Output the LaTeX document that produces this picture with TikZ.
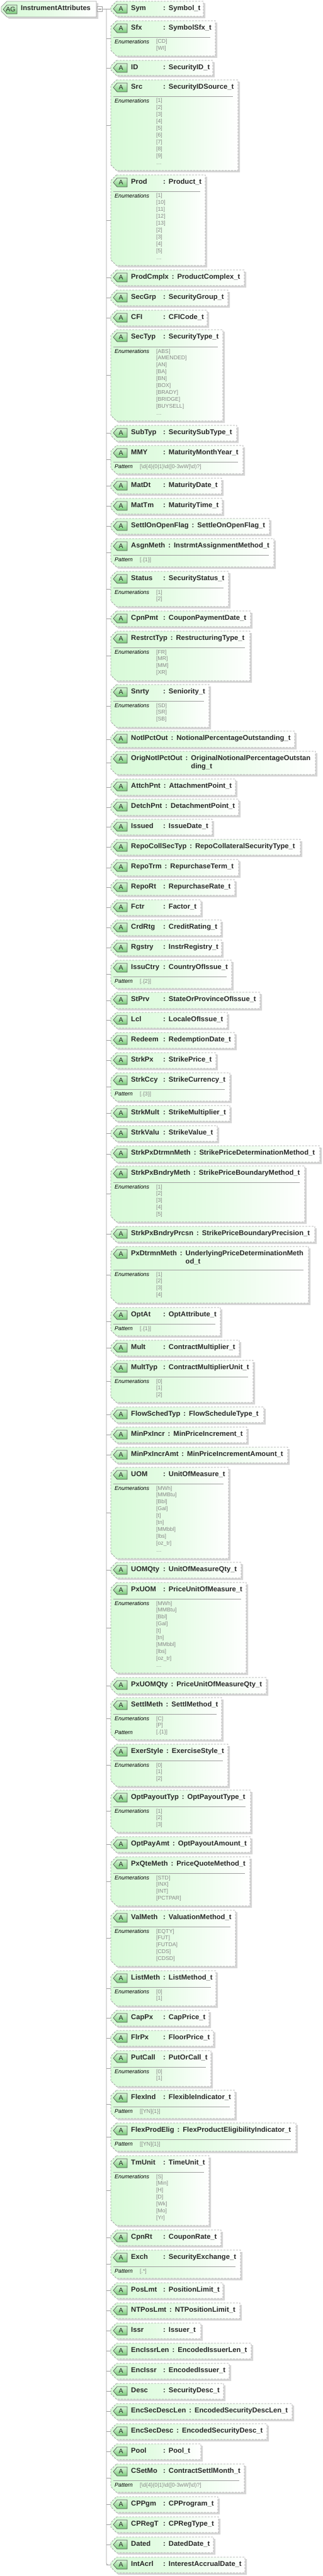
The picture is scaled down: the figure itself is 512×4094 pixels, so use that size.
\documentclass[tikz,border=0pt]{standalone}
\usepackage{fontspec}
\setmainfont{Liberation Sans}
\usetikzlibrary{calc}
\definecolor{gL}{RGB}{216,250,216}
\definecolor{gL2}{RGB}{228,252,228}
\definecolor{boxc}{RGB}{165,165,165}
\definecolor{shc}{RGB}{214,214,214}
\definecolor{linec}{RGB}{160,160,160}
\definecolor{txt}{RGB}{40,40,40}
\definecolor{itmc}{RGB}{135,135,135}
\definecolor{icoT}{RGB}{215,247,215}
\definecolor{icoB}{RGB}{120,200,120}
\pgfdeclarehorizontalshading{boxshade}{100bp}{color(0bp)=(gL); color(25bp)=(gL); color(48bp)=(gL2); color(75bp)=(white); color(100bp)=(white)}

\newlength\nmw
\newcommand\hdr[2]{\settowidth\nmw{#1}\ifdim\nmw<46pt\nmw=46pt\fi\makebox[\nmw][l]{#1}\hspace{5pt}:\hspace{5pt}#2}
\newcommand\twol[2]{\begin{tabular}[t]{@{}l@{}}#1\\#2\end{tabular}}

\tikzset{
 boxline/.style={draw=boxc, line width=0.8pt, dash pattern=on 3pt off 2pt},
 sepline/.style={draw=linec, line width=0.8pt},
 conn/.style={draw=linec, line width=0.8pt},
 hdrtext/.style={anchor=base west, inner sep=0pt, font=\fontsize{11.2}{13.2}\selectfont\bfseries, text=txt},
 lbl/.style={anchor=base west, inner sep=0pt, font=\fontsize{8.9}{10}\selectfont\itshape, text=black},
 itm/.style={anchor=base west, inner sep=0pt, font=\fontsize{8.7}{10}\selectfont, text=itmc},
 icontext/.style={inner sep=0pt, font=\fontsize{10.5}{10.5}\selectfont, text=black!85},
}

% icon: #1 left x, #2 top y, #3 right x, #4 text
\newcommand\aicon[4]{%
 \shade[top color=icoT, bottom color=icoB] (#1+6,#2) -- (#3,#2) -- (#3,#2+14) -- (#1+6,#2+14) -- (#1,#2+7) -- cycle;
 \draw[draw=black!65, line width=0.7pt] (#1+6,#2) -- (#3,#2) -- (#3,#2+14) -- (#1+6,#2+14) -- (#1,#2+7) -- cycle;
 \node[icontext] at ({(#1+#3)/2+1},#2+7.3) {#4};
}

% attribute box: #1 id, #2 top, #3 bottom, #4 right, #5 name, #6 type
\newcommand\abox[6]{%
 \fill[shc] (188,#2+3) -- (#4+3,#2+3) -- (#4+3,#3+3) -- (188,#3+3) -- (179,#3-6) -- (179,#2+12) -- cycle;
 \shade[shading=boxshade] (185,#2) -- (#4,#2) -- (#4,#3) -- (185,#3) -- (176,#3-9) -- (176,#2+9) -- cycle;
 \draw[boxline] (185,#2) -- (#4,#2) -- (#4,#3) -- (185,#3) -- (176,#3-9) -- (176,#2+9) -- cycle;
 \aicon{180}{#2+5}{202}{A}
 \node[hdrtext] (#1-t) at (208,#2+14.5) {\hdr{#5}{#6}};
 \coordinate (#1) at (176,{(#2+#3)/2});
 \draw[conn] (spine |- #1) -- (#1);
}

\newcommand\sepl[2]{\draw[sepline] (180,#1) -- (#2-8,#1);}
% enumeration section: #1 sep y, #2 right, #3 items, #4 dots
\newcommand\enumsec[4]{%
 \sepl{#1}{#2}
 \node[lbl] at (182,#1+10.5) {Enumerations};
 \foreach \x [count=\k from 0] in {#3} {\node[itm] at (248,#1+10+\k*10.9) {[\x]}; \xdef\lastk{\k}}
 \ifnum#4=1 \node[itm] at (248,#1+10+\lastk*10.9+10.9) {\ldots};\fi
}
% pattern section
\newcommand\patsec[3]{%
 \sepl{#1}{#2}
 \node[lbl] at (182,#1+10.5) {Pattern};
 \node[itm] at (222,#1+10) {#3};
}
\newcommand\mmypat{[\textbackslash d\{4\}(0|1)\textbackslash d([0-3wW]\textbackslash d)?]}

\begin{document}
\begin{tikzpicture}[x=1pt,y=-1pt]
\useasboundingbox[fill=white] (0,0) rectangle (512,4094);
\coordinate (spine) at (169,14);

% title
\fill[shc] (14,5) -- (156,5) -- (156,30) -- (14,30) -- (5,21) -- (5,14) -- cycle;
\shade[shading=boxshade] (11,2) -- (153,2) -- (153,27) -- (11,27) -- (2,18) -- (2,11) -- cycle;
\draw[draw=boxc, line width=0.8pt] (11,2) -- (153,2) -- (153,27) -- (11,27) -- (2,18) -- (2,11) -- cycle;
\aicon{5}{8}{27}{AG}
\node[hdrtext] (title) at (33,16.5) {InstrumentAttributes};
\node[draw=linec, fill=white, minimum size=8pt, inner sep=0pt, line width=0.7pt] (minus) at (158,14) {};
\draw[black!60, line width=0.7pt] (155.5,14) -- (160.5,14);
\draw[conn] (minus.east) -- (spine);

\abox{Sym}{2}{26}{323}{Sym}{Symbol\_t}
\abox{Sfx}{33}{89}{342}{Sfx}{SymbolSfx\_t} \enumsec{59}{342}{CD,WI}{0}
\abox{ID}{96}{120}{338}{ID}{SecurityID\_t}
\abox{Src}{127}{271}{378}{Src}{SecurityIDSource\_t} \enumsec{153}{378}{1,2,3,4,5,6,7,8,9}{1}
\abox{Prod}{278}{422}{326}{Prod}{Product\_t} \enumsec{304}{326}{1,10,11,12,13,2,3,4,5}{1}
\abox{ProdCmplx}{429}{454}{388}{ProdCmplx}{ProductComplex\_t}
\abox{SecGrp}{461}{486}{362}{SecGrp}{SecurityGroup\_t}
\abox{CFI}{493}{518}{329}{CFI}{CFICode\_t}
\abox{SecTyp}{524}{669}{354}{SecTyp}{SecurityType\_t} \enumsec{551}{354}{ABS,AMENDED,AN,BA,BN,BOX,BRADY,BRIDGE,BUYSELL}{1}
\abox{SubTyp}{676}{701}{376}{SubTyp}{SecuritySubType\_t}
\abox{MMY}{708}{753}{386}{MMY}{MaturityMonthYear\_t} \patsec{734}{386}{\mmypat}
\abox{MatDt}{760}{785}{352}{MatDt}{MaturityDate\_t}
\abox{MatTm}{792}{817}{353}{MatTm}{MaturityTime\_t}
\abox{SettlOnOpenFlag}{824}{849}{428}{SettlOnOpenFlag}{SettleOnOpenFlag\_t}
\abox{AsgnMeth}{856}{901}{435}{AsgnMeth}{InstrmtAssignmentMethod\_t} \patsec{882}{435}{[.\{1\}]}
\abox{Status}{908}{964}{363}{Status}{SecurityStatus\_t} \enumsec{934}{363}{1,2}{0}
\abox{CpnPmt}{971}{996}{398}{CpnPmt}{CouponPaymentDate\_t}
\abox{RestrctTyp}{1003}{1082}{397}{RestrctTyp}{RestructuringType\_t} \enumsec{1029}{397}{FR,MR,MM,XR}{0}
\abox{Snrty}{1088}{1156}{332}{Snrty}{Seniority\_t} \enumsec{1114}{332}{SD,SR,SB}{0}
\abox{NotlPctOut}{1162}{1188}{468}{NotlPctOut}{NotionalPercentageOutstanding\_t}
\abox{OrigNotlPctOut}{1194}{1231}{501}{OrigNotlPctOut}{\twol{OriginalNotionalPercentageOutstan}{ding\_t}}
\abox{AttchPnt}{1238}{1264}{374}{AttchPnt}{AttachmentPoint\_t}
\abox{DetchPnt}{1270}{1296}{379}{DetchPnt}{DetachmentPoint\_t}
\abox{Issued}{1302}{1327}{337}{Issued}{IssueDate\_t}
\abox{RepoCollSecTyp}{1334}{1359}{477}{RepoCollSecTyp}{RepoCollateralSecurityType\_t}
\abox{RepoTrm}{1366}{1392}{379}{RepoTrm}{RepurchaseTerm\_t}
\abox{RepoRt}{1398}{1423}{373}{RepoRt}{RepurchaseRate\_t}
\abox{Fctr}{1430}{1455}{319}{Fctr}{Factor\_t}
\abox{CrdRtg}{1462}{1487}{351}{CrdRtg}{CreditRating\_t}
\abox{Rgstry}{1494}{1519}{352}{Rgstry}{InstrRegistry\_t}
\abox{IssuCtry}{1526}{1571}{368}{IssuCtry}{CountryOfIssue\_t} \patsec{1552}{368}{[.\{2\}]}
\abox{StPrv}{1577}{1603}{413}{StPrv}{StateOrProvinceOfIssue\_t}
\abox{Lcl}{1609}{1634}{361}{Lcl}{LocaleOfIssue\_t}
\abox{Redeem}{1641}{1666}{373}{Redeem}{RedemptionDate\_t}
\abox{StrkPx}{1673}{1698}{343}{StrkPx}{StrikePrice\_t}
\abox{StrkCcy}{1705}{1750}{365}{StrkCcy}{StrikeCurrency\_t} \patsec{1731}{365}{[.\{3\}]}
\abox{StrkMult}{1757}{1782}{365}{StrkMult}{StrikeMultiplier\_t}
\abox{StrkValu}{1789}{1814}{345}{StrkValu}{StrikeValue\_t}
\abox{StrkPxDtrmnMeth}{1821}{1847}{508}{StrkPxDtrmnMeth}{StrikePriceDeterminationMethod\_t}
\abox{StrkPxBndryMeth}{1853}{1942}{484}{StrkPxBndryMeth}{StrikePriceBoundaryMethod\_t} \enumsec{1879}{484}{1,2,3,4,5}{0}
\abox{StrkPxBndryPrcsn}{1949}{1974}{500}{StrkPxBndryPrcsn}{StrikePriceBoundaryPrecision\_t}
\abox{PxDtrmnMeth}{1981}{2071}{490}{PxDtrmnMeth}{\twol{UnderlyingPriceDeterminationMeth}{od\_t}} \enumsec{2018}{490}{1,2,3,4}{0}
\abox{OptAt}{2078}{2123}{350}{OptAt}{OptAttribute\_t} \patsec{2104}{350}{[.\{1\}]}
\abox{Mult}{2130}{2155}{380}{Mult}{ContractMultiplier\_t}
\abox{MultTyp}{2162}{2229}{402}{MultTyp}{ContractMultiplierUnit\_t} \enumsec{2188}{402}{0,1,2}{0}
\abox{FlowSchedTyp}{2236}{2261}{419}{FlowSchedTyp}{FlowScheduleType\_t}
\abox{MinPxIncr}{2268}{2293}{392}{MinPxIncr}{MinPriceIncrement\_t}
\abox{MinPxIncrAmt}{2300}{2325}{457}{MinPxIncrAmt}{MinPriceIncrementAmount\_t}
\abox{UOM}{2332}{2477}{363}{UOM}{UnitOfMeasure\_t} \enumsec{2358}{363}{MWh,MMBtu,Bbl,Gal,t,tn,MMbbl,lbs,oz\_tr}{1}
\abox{UOMQty}{2483}{2508}{383}{UOMQty}{UnitOfMeasureQty\_t}
\abox{PxUOM}{2515}{2659}{391}{PxUOM}{PriceUnitOfMeasure\_t} \enumsec{2541}{391}{MWh,MMBtu,Bbl,Gal,t,tn,MMbbl,lbs,oz\_tr}{1}
\abox{PxUOMQty}{2666}{2692}{423}{PxUOMQty}{PriceUnitOfMeasureQty\_t}
\abox{SettlMeth}{2698}{2765}{352}{SettlMeth}{SettlMethod\_t} \enumsec{2724}{352}{C,P}{0}
\node[lbl] at (182,2724+10.5+2*10.9) {Pattern};
\node[itm] at (248,2724+10+2*10.9) {[.\{1\}]};
\abox{ExerStyle}{2772}{2839}{362}{ExerStyle}{ExerciseStyle\_t} \enumsec{2798}{362}{0,1,2}{0}
\abox{OptPayoutTyp}{2845}{2912}{398}{OptPayoutTyp}{OptPayoutType\_t} \enumsec{2871}{398}{1,2,3}{0}
\abox{OptPayAmt}{2919}{2944}{398}{OptPayAmt}{OptPayoutAmount\_t}
\abox{PxQteMeth}{2951}{3029}{397}{PxQteMeth}{PriceQuoteMethod\_t} \enumsec{2977}{397}{STD,INX,INT,PCTPAR}{0}
\abox{ValMeth}{3036}{3125}{374}{ValMeth}{ValuationMethod\_t} \enumsec{3062}{374}{EQTY,FUT,FUTDA,CDS,CDSD}{0}
\abox{ListMeth}{3132}{3188}{343}{ListMeth}{ListMethod\_t} \enumsec{3158}{343}{0,1}{0}
\abox{CapPx}{3195}{3220}{332}{CapPx}{CapPrice\_t}
\abox{FlrPx}{3227}{3252}{339}{FlrPx}{FloorPrice\_t}
\abox{PutCall}{3259}{3316}{335}{PutCall}{PutOrCall\_t} \enumsec{3285}{335}{0,1}{0}
\abox{FlexInd}{3322}{3367}{373}{FlexInd}{FlexibleIndicator\_t} \patsec{3348}{373}{[[YN]\{1\}]}
\abox{FlexProdElig}{3374}{3419}{470}{FlexProdElig}{FlexProductEligibilityIndicator\_t} \patsec{3400}{470}{[[YN]\{1\}]}
\abox{TmUnit}{3426}{3537}{332}{TmUnit}{TimeUnit\_t} \enumsec{3452}{332}{S,Min,H,D,Wk,Mo,Yr}{0}
\abox{CpnRt}{3544}{3569}{351}{CpnRt}{CouponRate\_t}
\abox{Exch}{3576}{3621}{382}{Exch}{SecurityExchange\_t} \patsec{3602}{382}{[.*]}
\abox{PosLmt}{3628}{3653}{354}{PosLmt}{PositionLimit\_t}
\abox{NTPosLmt}{3660}{3685}{381}{NTPosLmt}{NTPositionLimit\_t}
\abox{Issr}{3692}{3717}{319}{Issr}{Issuer\_t}
\abox{EncIssrLen}{3724}{3749}{399}{EncIssrLen}{EncodedIssuerLen\_t}
\abox{EncIssr}{3756}{3781}{364}{EncIssr}{EncodedIssuer\_t}
\abox{Desc}{3788}{3813}{355}{Desc}{SecurityDesc\_t}
\abox{EncSecDescLen}{3820}{3845}{464}{EncSecDescLen}{EncodedSecurityDescLen\_t}
\abox{EncSecDesc}{3852}{3877}{424}{EncSecDesc}{EncodedSecurityDesc\_t}
\abox{Pool}{3884}{3909}{319}{Pool}{Pool\_t}
\abox{CSetMo}{3916}{3961}{388}{CSetMo}{ContractSettlMonth\_t} \patsec{3942}{388}{\mmypat}
\abox{CPPgm}{3968}{3993}{346}{CPPgm}{CPProgram\_t}
\abox{CPRegT}{4000}{4025}{347}{CPRegT}{CPRegType\_t}
\abox{Dated}{4032}{4057}{339}{Dated}{DatedDate\_t}
\abox{IntAcrl}{4064}{4089}{389}{IntAcrl}{InterestAccrualDate\_t}

\draw[conn, rounded corners=3pt] (spine) |- (IntAcrl);
\end{tikzpicture}
\end{document}
